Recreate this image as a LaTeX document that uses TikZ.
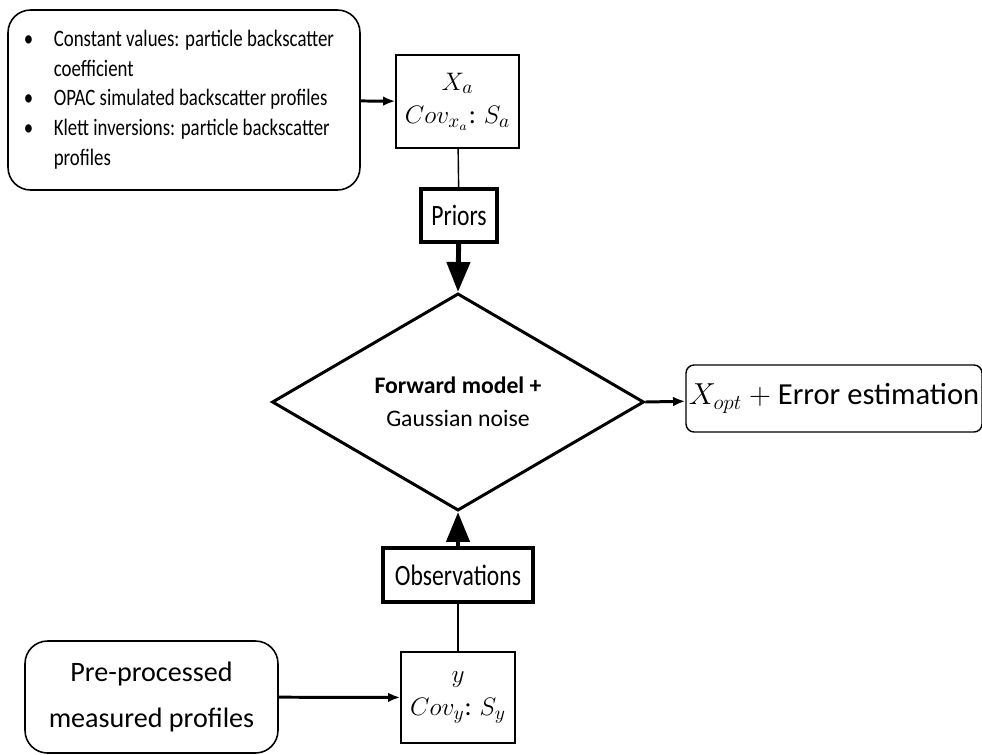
\documentclass[tikz,border=0pt]{standalone}
\usepackage{fontspec}
\setmainfont{Carlito}
\newfontfamily\narrowfont{Carlito}[FakeStretch=0.8]
\usetikzlibrary{arrows.meta,shapes.geometric,positioning}

\begin{document}
\begin{tikzpicture}[x=0.02cm,y=-0.02cm
    , every node/.style={inner sep=1pt,align=center}
    , thinbox/.style={draw,line width=0.8pt}
    , thickbox/.style={draw,line width=2.3pt,font=\narrowfont\fontsize{16.8}{20}\selectfont}
    , roundbox/.style={draw,line width=0.9pt,rounded corners=0.45cm}
    , flow/.style={-{Latex[length=7pt,width=5.5pt]},line width=1.7pt}
    , bigflow/.style={-{Triangle[length=17pt,width=13pt]},line width=2.8pt}
    , link/.style={line width=0.8pt}
]
    \useasboundingbox (0,0) rectangle (982,754);

    % Priors side.
    \node[roundbox,minimum width=7.04cm,minimum height=3.6cm
        ,font=\narrowfont\fontsize{13.4}{17}\selectfont] (sources) at (184,100)
        {\begin{tabular}{@{}p{17pt}@{}l@{}}
            \textbullet & Constant values: particle backscatter\\
                        & coefficient\\
            \textbullet & OPAC simulated backscatter profiles\\
            \textbullet & Klett inversions: particle backscatter\\
                        & profiles
        \end{tabular}\rule{0.2cm}{0pt}};

    \node[thinbox,minimum width=2.46cm,minimum height=1.86cm
        ,font=\fontsize{15}{19}\selectfont] (xa) at (457.5,101.5)
        {$X_a$\\ $Cov_{x_a}$: $S_a$};
    \draw[flow] (sources) -- (xa);

    \node[thickbox,minimum width=1.52cm,minimum height=1.06cm] (priors) at (459,215.5) {Priors};
    \draw[link] (xa) -- (priors);

    % Model.
    \node[diamond,draw,line width=1.7pt,inner sep=0pt,minimum width=7.44cm,minimum height=3.5cm
        ,font=\fontsize{13.5}{19}\selectfont] (model) at (458,402)
        {\textbf{Forward model +}\\Gaussian noise};
    \draw[bigflow] (priors) -- (model.north);

    \node[draw,line width=0.8pt,rounded corners=0.16cm,minimum width=5.92cm,minimum height=1.34cm
        ,font=\fontsize{17.4}{22}\selectfont] (result) at (834,398.5)
        {$X_{opt}$ $+$ Error estimation};
    \draw[flow] (model.east) -- (result);

    % Observations side.
    \node[thickbox,minimum width=3cm,minimum height=1.08cm] (obs) at (458,575) {Observations};
    \draw[bigflow] (obs) -- (model.south);

    \node[thinbox,minimum width=2.28cm,minimum height=1.82cm
        ,font=\fontsize{15}{19}\selectfont] (ybox) at (458,697.5)
        {$y$\\ $Cov_{y}$: $S_y$};
    \draw[link] (obs) -- (ybox);

    \node[roundbox,minimum width=5.06cm,minimum height=2.24cm
        ,font=\fontsize{16}{26.6}\selectfont] (measured) at (151.5,697)
        {Pre-processed\\measured profiles};
    \draw[flow] (measured) -- (ybox);

\end{tikzpicture}
\end{document}
